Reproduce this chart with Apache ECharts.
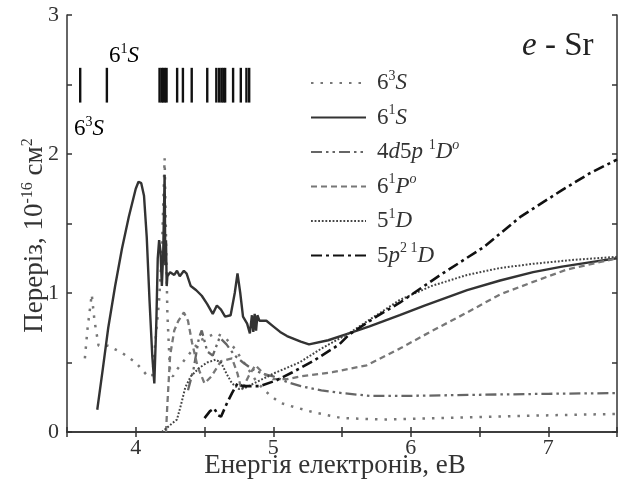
<!DOCTYPE html>
<html>
<head>
<meta charset="utf-8">
<script src="https://cdn.jsdelivr.net/npm/echarts@6/dist/echarts.min.js"></script>
<style>
  html, body { margin: 0; background: #fff; }
  #chart { width: 621px; height: 489px; }
</style>
</head>
<body>
<div id="chart"></div>
<script>
// energy (eV), cross-section (1e-16 cm^2)
const s63S = [[3.63,0.53],[3.65,0.75],[3.68,0.99],[3.70,0.80],[3.73,0.62],[3.80,0.62],[3.90,0.57],[4.00,0.50],[4.08,0.41],[4.12,0.40],[4.14,0.62],[4.17,0.95],[4.19,1.30],[4.21,1.97],[4.22,1.40],[4.23,0.85],[4.25,0.42],[4.27,0.40],[4.30,0.45],[4.38,0.55],[4.47,0.66],[4.58,0.71],[4.65,0.68],[4.72,0.60],[4.80,0.48],[4.88,0.36],[4.97,0.27],[5.05,0.21],[5.15,0.18],[5.30,0.14],[5.50,0.10],[5.80,0.09],[6.20,0.10],[6.60,0.11],[7.00,0.12],[7.50,0.13]];
const s61S = [[3.72,0.16],[3.76,0.45],[3.80,0.75],[3.85,1.05],[3.90,1.32],[3.95,1.55],[4.00,1.75],[4.02,1.80],[4.04,1.79],[4.06,1.70],[4.08,1.40],[4.10,0.95],[4.12,0.55],[4.135,0.35],[4.15,0.80],[4.16,1.25],[4.17,1.38],[4.18,1.30],[4.19,1.05],[4.20,1.30],[4.21,1.85],[4.215,1.20],[4.22,1.38],[4.225,1.05],[4.23,1.12],[4.25,1.15],[4.28,1.13],[4.30,1.16],[4.32,1.12],[4.35,1.16],[4.37,1.14],[4.40,1.05],[4.44,1.02],[4.48,0.98],[4.52,0.92],[4.56,0.85],[4.59,0.91],[4.62,0.88],[4.65,0.83],[4.69,0.84],[4.72,1.00],[4.74,1.14],[4.76,1.00],[4.78,0.83],[4.81,0.78],[4.83,0.71],[4.845,0.84],[4.855,0.72],[4.865,0.85],[4.875,0.73],[4.885,0.84],[4.90,0.80],[4.95,0.80],[5.00,0.76],[5.05,0.72],[5.10,0.69],[5.15,0.67],[5.20,0.65],[5.26,0.63],[5.40,0.66],[5.55,0.71],[5.70,0.76],[5.92,0.84],[6.10,0.91],[6.41,1.02],[6.65,1.09],[6.89,1.15],[7.10,1.19],[7.30,1.22],[7.50,1.25]];
const s4d5p = [[4.38,0.30],[4.42,0.45],[4.46,0.68],[4.48,0.73],[4.52,0.58],[4.56,0.55],[4.61,0.68],[4.66,0.63],[4.72,0.55],[4.78,0.50],[4.85,0.45],[4.92,0.42],[5.00,0.40],[5.10,0.36],[5.20,0.33],[5.35,0.30],[5.50,0.28],[5.70,0.26],[6.00,0.26],[6.30,0.265],[6.65,0.27],[7.00,0.275],[7.50,0.28]];
const s61P = [[4.22,0.00],[4.23,0.20],[4.25,0.55],[4.28,0.73],[4.31,0.80],[4.35,0.86],[4.38,0.80],[4.41,0.64],[4.45,0.47],[4.50,0.35],[4.55,0.40],[4.62,0.51],[4.70,0.53],[4.74,0.42],[4.77,0.30],[4.82,0.40],[4.87,0.48],[4.93,0.42],[5.00,0.38],[5.10,0.38],[5.20,0.40],[5.43,0.43],[5.68,0.48],[5.92,0.60],[6.16,0.73],[6.41,0.86],[6.65,0.99],[6.89,1.08],[7.14,1.17],[7.50,1.25]];
const s51D = [[4.19,0.00],[4.25,0.05],[4.30,0.09],[4.33,0.20],[4.36,0.32],[4.40,0.40],[4.46,0.46],[4.52,0.50],[4.58,0.52],[4.62,0.50],[4.66,0.42],[4.70,0.35],[4.75,0.31],[4.80,0.32],[4.90,0.37],[5.00,0.42],[5.19,0.50],[5.35,0.60],[5.55,0.71],[5.75,0.84],[5.92,0.95],[6.15,1.05],[6.41,1.13],[6.65,1.18],[6.89,1.21],[7.20,1.24],[7.50,1.26]];
const s5p2 = [[4.50,0.10],[4.54,0.15],[4.57,0.17],[4.60,0.12],[4.62,0.11],[4.66,0.20],[4.70,0.28],[4.74,0.35],[4.78,0.33],[4.82,0.33],[4.90,0.33],[5.02,0.37],[5.14,0.43],[5.29,0.51],[5.48,0.63],[5.55,0.70],[5.75,0.83],[5.92,0.93],[6.20,1.12],[6.53,1.33],[6.80,1.55],[7.10,1.74],[7.30,1.86],[7.50,1.96]];

// excitation thresholds marked at the top
const levels = [3.596,3.790,4.173,4.188,4.199,4.212,4.224,4.301,4.343,4.407,4.520,4.586,4.606,4.623,4.637,4.650,4.708,4.764,4.805,4.825];
const levelSpan = [2.37, 2.62];

const xTicks = [4, 5, 6, 7];
const yTicks = [0, 1, 2, 3];

const serif = '"Liberation Serif", "DejaVu Serif", serif';
const ink = '#333';

const rich = {
  n: { fontFamily: serif, fontSize: 23, color: ink, lineHeight: 28 },
  i: { fontFamily: serif, fontSize: 23, fontStyle: 'italic', color: ink, lineHeight: 28 },
  s: { fontFamily: serif, fontSize: 14, color: ink, verticalAlign: 'top', lineHeight: 28 },
  si: { fontFamily: serif, fontSize: 14, fontStyle: 'italic', color: ink, verticalAlign: 'top', lineHeight: 28 }
};

const legendText = {
  '63S': '{n|6}{s|3}{i|S}',
  '61S': '{n|6}{s|1}{i|S}',
  '4d5p': '{n|4}{i|d}{n|5}{i|p} {s|1}{i|D}{si|o}',
  '61P': '{n|6}{s|1}{i|P}{si|o}',
  '51D': '{n|5}{s|1}{i|D}',
  '5p2': '{n|5}{i|p}{s|2 1}{i|D}'
};

const chart = echarts.init(document.getElementById('chart'));

const line = (name, data, color, type, width) => ({
  name, type: 'line', data, showSymbol: false, symbol: 'none',
  lineStyle: { color, type, width }, itemStyle: { color },
  z: 3
});

const tickLabel = { fontFamily: serif, fontSize: 22, color: ink };

chart.setOption({
  animation: false,
  textStyle: { fontFamily: serif },
  grid: { left: 67, right: 4, top: 15, bottom: 57, containLabel: false, outerBoundsMode: 'none' },
  legend: {
    orient: 'vertical', left: 305, top: 64,
    itemWidth: 55, itemHeight: 14, itemGap: 9,
    data: ['63S', '61S', '4d5p', '61P', '51D', '5p2'],
    formatter: n => legendText[n],
    itemStyle: { opacity: 0 },
    textStyle: { rich, fontFamily: serif, fontSize: 23, color: ink, padding: [0, 0, 0, 6] },
    selectedMode: false
  },
  xAxis: [
    {
      type: 'value', min: 3.5, max: 7.5, interval: 0.5,
      axisLine: { lineStyle: { color: ink, width: 1.5 } },
      axisTick: { inside: true, length: 5, lineStyle: { color: ink, width: 1.5 } },
      splitLine: { show: false },
      axisLabel: {
        margin: 5, rich: { t: tickLabel },
        formatter: v => (xTicks.includes(v) ? '{t|' + v + '}' : '')
      },
      name: 'Енергія електронів, еВ', nameLocation: 'middle', nameGap: 20, nameMoveOverlap: false,
      nameTextStyle: { fontFamily: serif, fontSize: 27, color: ink, padding: [0, 14, 0, 0] }
    },
    {
      type: 'value', position: 'top', min: 3.5, max: 7.5, interval: 0.5,
      axisLine: { show: true, lineStyle: { color: ink, width: 1.5 } },
      axisTick: { inside: true, length: 5, lineStyle: { color: ink, width: 1.5 } },
      axisLabel: { show: false }, splitLine: { show: false }
    }
  ],
  yAxis: [
    {
      type: 'value', min: 0, max: 3, interval: 0.5,
      axisLine: { show: true, lineStyle: { color: ink, width: 1.5 } },
      axisTick: { show: true, inside: true, length: 5, lineStyle: { color: ink, width: 1.5 } },
      splitLine: { show: false },
      axisLabel: {
        margin: 8, rich: { t: tickLabel },
        formatter: v => (yTicks.includes(v) ? '{t|' + v + '}' : '')
      },
      name: '{n|Переріз, 10}{s|-16}{n| см}{s|2}', nameLocation: 'middle', nameGap: 17, nameRotate: 90,
      nameMoveOverlap: false,
      nameTextStyle: {
        padding: [0, 24, 0, 0],
        rich: {
          n: { fontFamily: serif, fontSize: 27, color: ink, lineHeight: 30 },
          s: { fontFamily: serif, fontSize: 16, color: ink, verticalAlign: 'top', lineHeight: 30 }
        }
      }
    },
    {
      type: 'value', position: 'right', min: 0, max: 3, interval: 0.5,
      axisLine: { show: true, lineStyle: { color: ink, width: 1.5 } },
      axisTick: { show: true, inside: true, length: 5, lineStyle: { color: ink, width: 1.5 } },
      axisLabel: { show: false }, splitLine: { show: false }
    }
  ],
  graphic: [
    { type: 'text', left: 522, top: 30, style: { text: '{i|e}{n| - Sr}', rich: {
      i: { fontFamily: serif, fontSize: 33, fontStyle: 'italic', fill: '#222' },
      n: { fontFamily: serif, fontSize: 33, fill: '#222' }
    } } },
    { type: 'text', left: 109, top: 42, style: { text: '{n|6}{s|1}{i|S}', rich } },
    { type: 'text', left: 74, top: 115, style: { text: '{n|6}{s|3}{i|S}', rich } }
  ],
  series: [
    line('63S', s63S, '#777', [2.5, 7], 2.5),
    line('61S', s61S, '#333', 'solid', 2.4),
    line('4d5p', s4d5p, '#666', [11, 4, 2.5, 4, 2.5, 4], 2.3),
    line('61P', s61P, '#777', [6, 4], 2.3),
    line('51D', s51D, '#444', [1.8, 1.8], 2),
    line('5p2', s5p2, '#111', [11, 4, 3, 4], 2.6),
    {
      type: 'custom',
      data: levels.map(v => [v]),
      renderItem: (params, api) => {
        const a = api.coord([api.value(0), levelSpan[1]]);
        const b = api.coord([api.value(0), levelSpan[0]]);
        return {
          type: 'line',
          shape: { x1: a[0], y1: a[1], x2: b[0], y2: b[1] },
          style: { stroke: '#111', lineWidth: 2.4 }
        };
      },
      z: 4
    }
  ]
});
</script>
</body>
</html>
